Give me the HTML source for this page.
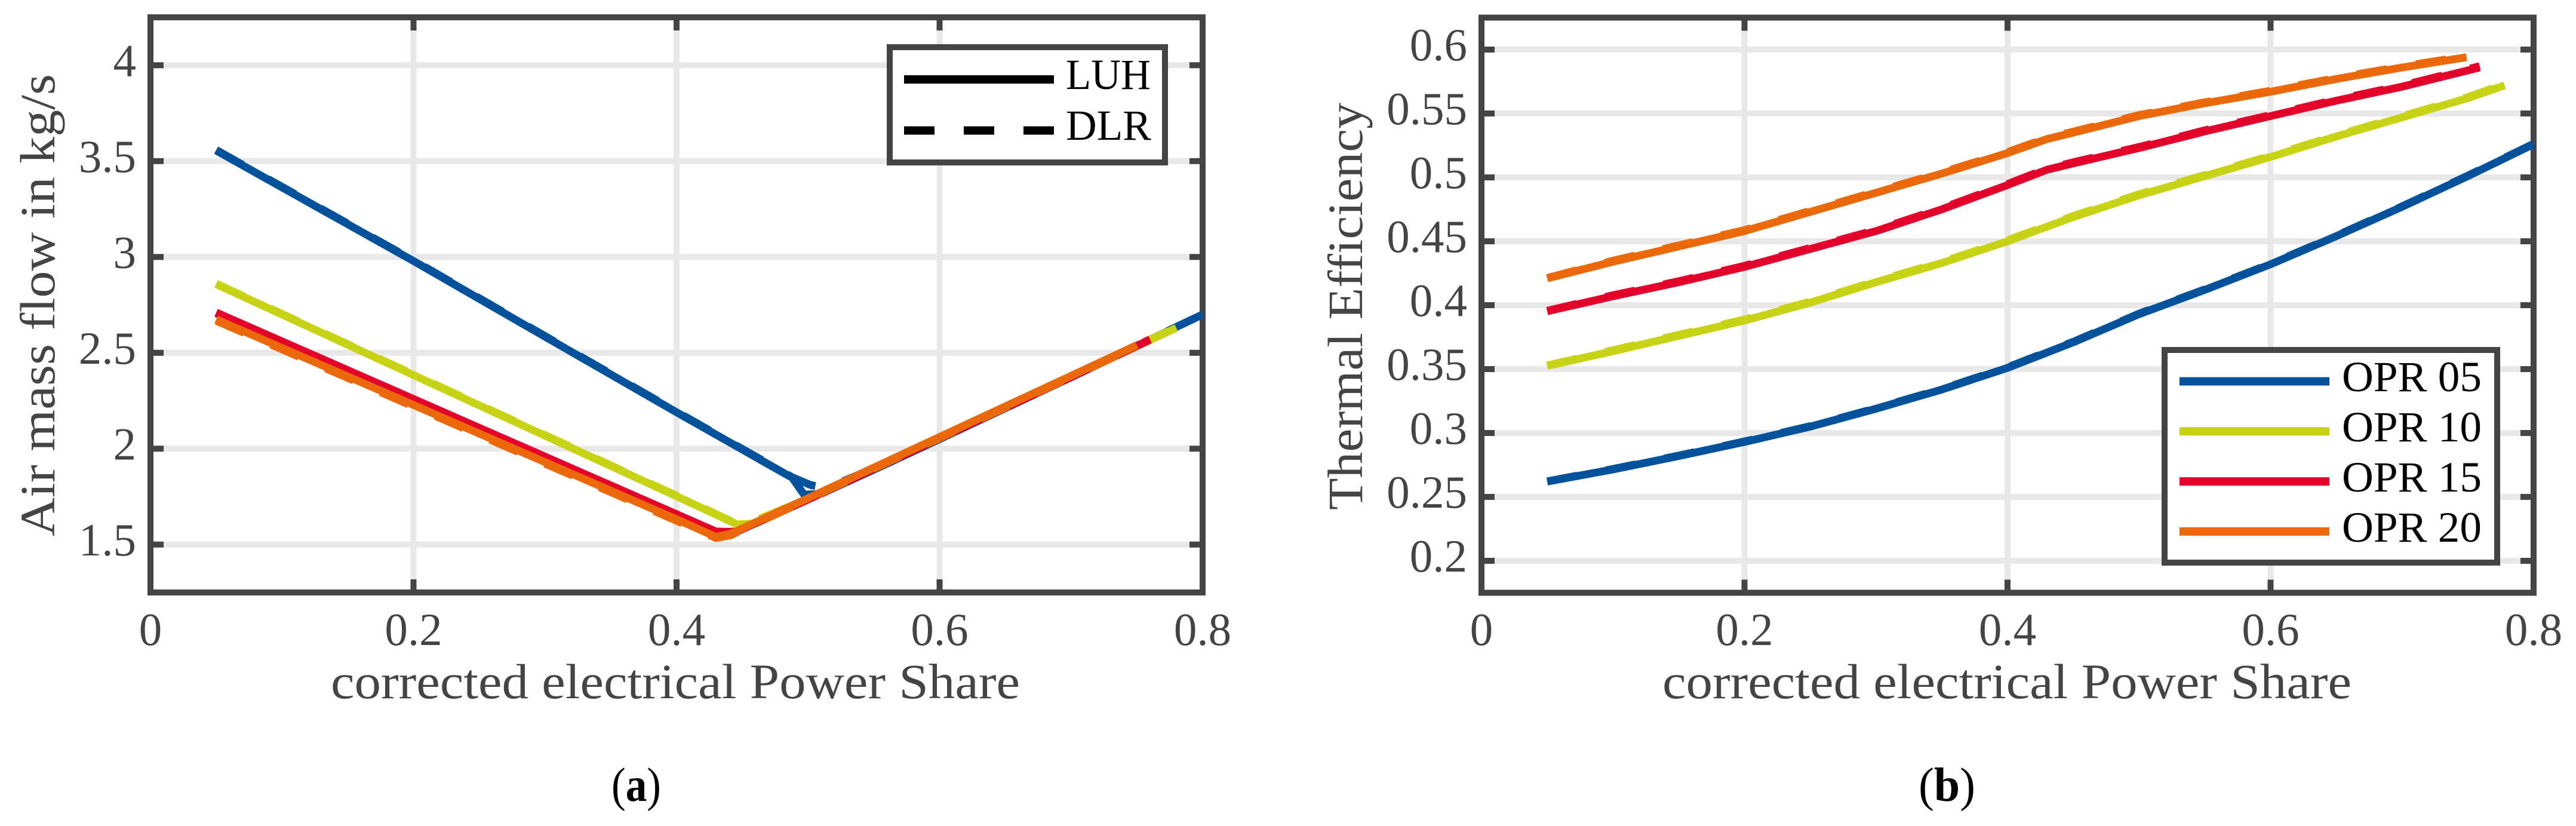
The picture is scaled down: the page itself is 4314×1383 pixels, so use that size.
<!DOCTYPE html>
<html lang="en">
<head>
<meta charset="utf-8">
<title>Air mass flow and thermal efficiency versus corrected electrical power share</title>
<style>
html,body{margin:0;padding:0;background:#fff;width:4314px;height:1383px;overflow:hidden}
svg{display:block}
text{font-family:"Liberation Serif",serif}
</style>
</head>
<body>
<svg id="figure" xmlns="http://www.w3.org/2000/svg" width="4314" height="1383" viewBox="0 0 4314 1383">
<rect x="0" y="0" width="4314" height="1383" fill="#ffffff"/>
<g id="panelA"></g>
<g id="panelB"></g>
</svg>
<script>
const xTicks = [0, 0.2, 0.4, 0.6, 0.8];
const xTickLabels = ['0', '0.2', '0.4', '0.6', '0.8'];
const aYTicks = [1.5, 2, 2.5, 3, 3.5, 4];
const aYTickLabels = ['1.5', '2', '2.5', '3', '3.5', '4'];
const bYTicks = [0.2, 0.25, 0.3, 0.35, 0.4, 0.45, 0.5, 0.55, 0.6];
const bYTickLabels = ['0.2', '0.25', '0.3', '0.35', '0.4', '0.45', '0.5', '0.55', '0.6'];

const seriesNames = ['OPR 05', 'OPR 10', 'OPR 15', 'OPR 20'];
const sourceNames = ['LUH', 'DLR'];

/* Panel a: air mass flow (kg/s) */
const aX05Luh = [0.05, 0.2, 0.4, 0.488, 0.497, 0.51, 0.56, 0.6, 0.7, 0.8];
const aY05Luh = [3.555, 2.979, 2.19, 1.848, 1.76, 1.765, 1.922, 2.05, 2.372, 2.7];
const aX05Dlr = [0.05, 0.2, 0.4, 0.488, 0.502, 0.514, 0.56, 0.6, 0.7, 0.8];
const aY05Dlr = [3.558, 2.982, 2.193, 1.851, 1.81, 1.795, 1.925, 2.052, 2.375, 2.7];
const aX10Luh = [0.05, 0.2, 0.4, 0.446, 0.46, 0.5, 0.6, 0.7, 0.78];
const aY10Luh = [2.858, 2.384, 1.752, 1.605, 1.61, 1.737, 2.055, 2.375, 2.63];
const aX10Dlr = [0.05, 0.2, 0.4, 0.446, 0.456, 0.5, 0.6, 0.7, 0.78];
const aY10Dlr = [2.861, 2.387, 1.755, 1.608, 1.614, 1.74, 2.057, 2.377, 2.633];
const aX15Luh = [0.05, 0.2, 0.4, 0.43, 0.445, 0.5, 0.6, 0.7, 0.76];
const aY15Luh = [2.71, 2.259, 1.658, 1.568, 1.565, 1.735, 2.054, 2.374, 2.568];
const aX15Dlr = [0.05, 0.2, 0.4, 0.43, 0.445, 0.5, 0.6, 0.7, 0.76];
const aY15Dlr = [2.706, 2.255, 1.654, 1.564, 1.568, 1.738, 2.057, 2.377, 2.57];
const aX20Luh = [0.05, 0.2, 0.4, 0.43, 0.441, 0.5, 0.6, 0.7, 0.75];
const aY20Luh = [2.675, 2.228, 1.632, 1.54, 1.556, 1.742, 2.061, 2.38, 2.54];
const aX20Dlr = [0.05, 0.2, 0.4, 0.43, 0.441, 0.5, 0.6, 0.7, 0.75];
const aY20Dlr = [2.667, 2.22, 1.624, 1.534, 1.548, 1.736, 2.055, 2.374, 2.534];

/* Panel b: thermal efficiency */
const bX05 = [0.05, 0.1, 0.15, 0.2, 0.25, 0.3, 0.35, 0.4, 0.45, 0.5, 0.55, 0.6, 0.65, 0.7, 0.75, 0.8];
const bY05Luh = [0.262, 0.2715, 0.282, 0.293, 0.305, 0.319, 0.334, 0.351, 0.371, 0.393, 0.412, 0.432, 0.454, 0.477, 0.501, 0.526];
const bY05Dlr = [0.2622, 0.2719, 0.2824, 0.2934, 0.3054, 0.3194, 0.3344, 0.3514, 0.3714, 0.3934, 0.4124, 0.4324, 0.4544, 0.4774, 0.5014, 0.5263];
const bX10 = [0.05, 0.1, 0.15, 0.2, 0.25, 0.3, 0.35, 0.4, 0.45, 0.5, 0.55, 0.6, 0.65, 0.7, 0.75, 0.778];
const bY10Luh = [0.3525, 0.364, 0.376, 0.388, 0.402, 0.418, 0.433, 0.45, 0.469, 0.486, 0.501, 0.516, 0.532, 0.547, 0.562, 0.572];
const bY10Dlr = [0.3528, 0.3648, 0.3768, 0.3888, 0.4028, 0.4188, 0.4338, 0.4508, 0.4698, 0.4868, 0.5018, 0.5168, 0.5328, 0.5478, 0.5628, 0.573];
const bX15 = [0.05, 0.1, 0.15, 0.2, 0.25, 0.3, 0.35, 0.4, 0.43, 0.45, 0.5, 0.55, 0.6, 0.65, 0.7, 0.759];
const bY15Luh = [0.3953, 0.407, 0.418, 0.43, 0.444, 0.458, 0.475, 0.494, 0.506, 0.511, 0.523, 0.536, 0.548, 0.56, 0.571, 0.586];
const bY15Dlr = [0.3956, 0.4078, 0.4188, 0.4308, 0.4448, 0.4588, 0.4758, 0.4948, 0.5068, 0.5118, 0.5238, 0.5368, 0.5488, 0.5608, 0.5718, 0.587];
const bX20 = [0.05, 0.1, 0.15, 0.2, 0.25, 0.3, 0.35, 0.4, 0.43, 0.45, 0.5, 0.55, 0.6, 0.65, 0.7, 0.749];
const bY20Luh = [0.421, 0.434, 0.446, 0.458, 0.473, 0.488, 0.503, 0.519, 0.53, 0.535, 0.548, 0.558, 0.567, 0.577, 0.586, 0.594];
const bY20Dlr = [0.4213, 0.4348, 0.4468, 0.4588, 0.4738, 0.4888, 0.5038, 0.5198, 0.5308, 0.5358, 0.5488, 0.5588, 0.5678, 0.5778, 0.5868, 0.5948];

const colorBlue = '#03529b';
const colorYellow = '#c9d315';
const colorRed = '#e3002a';
const colorOrange = '#eb690b';
const seriesColors = [colorBlue, colorYellow, colorRed, colorOrange];
const axisColor = '#444444';
const gridColor = '#e8e8e8';
const NS = 'http://www.w3.org/2000/svg';

function xScaleA(v) { return 252 + v * 2202.5; }
function yScaleA(v) { return 992 - (v - 1.25) * 321; }
function xScaleB(v) { return 2481 + v * 2202.5; }
function yScaleB(v) { return 992.5 - (v - 0.175) * 2140; }

function makeLine(parent, x1, y1, x2, y2, color, width) {
  const el = document.createElementNS(NS, 'line');
  el.setAttribute('x1', x1);
  el.setAttribute('y1', y1);
  el.setAttribute('x2', x2);
  el.setAttribute('y2', y2);
  el.setAttribute('stroke', color);
  el.setAttribute('stroke-width', width);
  parent.appendChild(el);
  return el;
}
function makeRect(parent, x, y, w, h, fill, stroke, sw) {
  const el = document.createElementNS(NS, 'rect');
  el.setAttribute('x', x);
  el.setAttribute('y', y);
  el.setAttribute('width', w);
  el.setAttribute('height', h);
  el.setAttribute('fill', fill);
  el.setAttribute('stroke', stroke);
  el.setAttribute('stroke-width', sw);
  parent.appendChild(el);
  return el;
}
function makeText(parent, str, x, y, size, color, anchor, length) {
  const el = document.createElementNS(NS, 'text');
  el.setAttribute('x', x);
  el.setAttribute('y', y);
  el.setAttribute('font-size', size);
  el.setAttribute('fill', color);
  el.setAttribute('text-anchor', anchor);
  if (length) {
    el.setAttribute('textLength', length);
    el.setAttribute('lengthAdjust', 'spacingAndGlyphs');
  }
  el.textContent = str;
  parent.appendChild(el);
  return el;
}
function makeCurve(parent, xs, ys, xf, yf, color, dashed) {
  const el = document.createElementNS(NS, 'polyline');
  el.setAttribute('points', xs.map(function (x, i) { return xf(x).toFixed(1) + ',' + yf(ys[i]).toFixed(1); }).join(' '));
  el.setAttribute('fill', 'none');
  el.setAttribute('stroke', color);
  el.setAttribute('stroke-width', 13);
  el.setAttribute('stroke-linejoin', 'round');
  el.setAttribute('stroke-linecap', 'butt');
  if (dashed) {
    el.setAttribute('stroke-dasharray', '51 49');
  }
  parent.appendChild(el);
  return el;
}

function drawAxes(parent, xf, yf, yTicks, yLabels, left, right, top, bottom, yLabelRight) {
  yTicks.forEach(function (t) {
    const g = makeLine(parent, left, yf(t), right, yf(t), gridColor, 10);
    
    
  });
  xTicks.slice(1, -1).forEach(function (t) {
    const g = makeLine(parent, xf(t), top, xf(t), bottom, gridColor, 10);
    
    
  });
  yTicks.forEach(function (t, i) {
    const a = makeLine(parent, left, yf(t), left + 22, yf(t), axisColor, 10);
    
    
    const b = makeLine(parent, right - 22, yf(t), right, yf(t), axisColor, 10);
    
    
    const l = makeText(parent, yLabels[i], yLabelRight, yf(t) + 18, 77, axisColor, 'end');
    
    
  });
  xTicks.forEach(function (t, i) {
    const a = makeLine(parent, xf(t), bottom - 22, xf(t), bottom, axisColor, 10);
    
    
    const b = makeLine(parent, xf(t), top, xf(t), top + 22, axisColor, 10);
    
    
    const l = makeText(parent, xTickLabels[i], xf(t), 1080, 77, axisColor, 'middle');
    
    
  });
  const frame = makeRect(parent, left, top, right - left, bottom - top, 'none', axisColor, 10);
  
  
}

function drawRotated(parent, str, x, yCenter, length) {
  const el = makeText(parent, str, 0, 0, 83, axisColor, 'middle', length);
  el.setAttribute('transform', 'translate(' + x + ' ' + yCenter + ') rotate(-90)');
  return el;
}

/* ---------- Panel a ---------- */
const panelA = document.getElementById('panelA');
drawAxes(panelA, xScaleA, yScaleA, aYTicks, aYTickLabels, 252, 2014, 29, 992, 228);

const aCurves = [
  [aX05Luh, aY05Luh, aX05Dlr, aY05Dlr],
  [aX10Luh, aY10Luh, aX10Dlr, aY10Dlr],
  [aX15Luh, aY15Luh, aX15Dlr, aY15Dlr],
  [aX20Luh, aY20Luh, aX20Dlr, aY20Dlr]
];
aCurves.forEach(function (c, i) {
  const solid = makeCurve(panelA, c[0], c[1], xScaleA, yScaleA, seriesColors[i], false);
  
  
  const dash = makeCurve(panelA, c[2], c[3], xScaleA, yScaleA, seriesColors[i], true);
  
  
});

const aXTitle = makeText(panelA, 'corrected electrical Power Share', 554, 1169, 83, axisColor, 'start', 1154);


const aYTitle = drawRotated(panelA, 'Air mass flow in kg/s', 91, 511, 774);



const aLegendBox = makeRect(panelA, 1490, 79, 461, 193, '#ffffff', axisColor, 10);


const luhKey = makeLine(panelA, 1514, 133, 1765, 133, '#000000', 14);


const dlrKey = makeLine(panelA, 1514, 218.5, 1765, 218.5, '#000000', 14);
dlrKey.setAttribute('stroke-dasharray', '51 49');


const luhLabel = makeText(panelA, sourceNames[0], 1785, 149, 72.5, '#000000', 'start', 142);


const dlrLabel = makeText(panelA, sourceNames[1], 1785, 234, 72.5, '#000000', 'start', 143);



const aCaption = makeText(panelA, '', 1024, 1341, 81, '#000000', 'start', 83);


aCaption.innerHTML = '(<tspan font-weight="700">a</tspan>)';

/* ---------- Panel b ---------- */
const panelB = document.getElementById('panelB');
drawAxes(panelB, xScaleB, yScaleB, bYTicks, bYTickLabels, 2481, 4243, 29.5, 992.5, 2457);

const bCurves = [
  [bX05, bY05Luh, bY05Dlr],
  [bX10, bY10Luh, bY10Dlr],
  [bX15, bY15Luh, bY15Dlr],
  [bX20, bY20Luh, bY20Dlr]
];
bCurves.forEach(function (c, i) {
  const solid = makeCurve(panelB, c[0], c[1], xScaleB, yScaleB, seriesColors[i], false);
  
  
  const dash = makeCurve(panelB, c[0], c[2], xScaleB, yScaleB, seriesColors[i], true);
  
  
});

const bXTitle = makeText(panelB, 'corrected electrical Power Share', 2784, 1169, 83, axisColor, 'start', 1154);


const bYTitle = drawRotated(panelB, 'Thermal Efficiency', 2281, 513, 682);



const bLegendBox = makeRect(panelB, 3625, 586, 557, 356, '#ffffff', axisColor, 10);


seriesNames.forEach(function (name, i) {
  const keyY = 638.5 + i * 83.8;
  const key = makeLine(panelB, 3650, keyY, 3901, keyY, seriesColors[i], 14);
  
  
  const lab = makeText(panelB, name, 3922, 655 + i * 84, 72.5, '#000000', 'start', 234);
  
  
});

const bCaption = makeText(panelB, '', 3213, 1341, 81, '#000000', 'start', 95);


bCaption.innerHTML = '(<tspan font-weight="700">b</tspan>)';
</script>
</body>
</html>
